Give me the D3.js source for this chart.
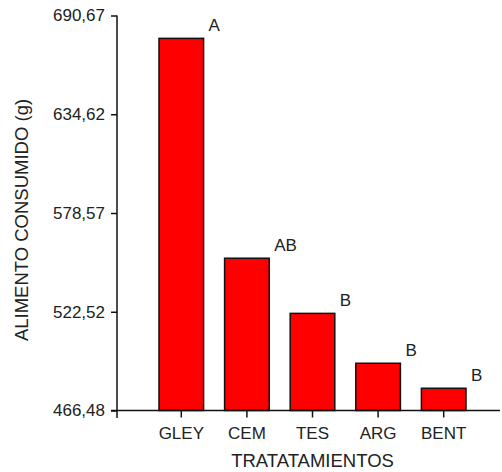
<!DOCTYPE html>
<html>
<head>
<meta charset="utf-8">
<script src="https://cdn.jsdelivr.net/npm/d3@7"></script>
<style>
  html, body { margin: 0; padding: 0; background: #fff; }
  svg { display: block; font-family: "Liberation Sans", Arial, sans-serif; }
</style>
</head>
<body>
<svg id="chart" width="502" height="472"></svg>
<script>
// Alimento consumido por tratamiento
const categories = ["GLEY", "CEM", "TES", "ARG", "BENT"];
const values = [677.7, 552.9, 521.6, 493.3, 479.1];
const groups = ["A", "AB", "B", "B", "B"];
const yTicks = [466.48, 522.52, 578.57, 634.62, 690.67];
const yTickLabels = ["466,48", "522,52", "578,57", "634,62", "690,67"];
const xTitle = "TRATATAMIENTOS";
const yTitle = "ALIMENTO CONSUMIDO (g)";

const svg = d3.select("#chart");
const axisX0 = 117, baseY = 410.5, topY = 15.5;

const x = d3.scaleBand()
  .domain(categories)
  .range([148.5, 476.5])
  .paddingInner(0.32)
  .paddingOuter(0.16);

const y = d3.scaleLinear()
  .domain([yTicks[0], yTicks[yTicks.length - 1]])
  .range([baseY, topY]);

// bars
svg.append("g").selectAll("rect")
  .data(categories)
  .join("rect")
  .attr("x", d => x(d))
  .attr("width", x.bandwidth())
  .attr("y", (d, i) => y(values[i]))
  .attr("height", (d, i) => y(yTicks[0]) - y(values[i]))
  .attr("fill", "#ff0000")
  .attr("stroke", "#111")
  .attr("stroke-width", 1.5);

// significance letters
svg.append("g").selectAll("text")
  .data(categories)
  .join("text")
  .attr("x", d => x(d) + x.bandwidth() + 5)
  .attr("y", (d, i) => y(values[i]) - 7)
  .attr("font-size", 17)
  .attr("fill", "#222")
  .text((d, i) => groups[i]);

// y axis
const yAxis = svg.append("g")
  .attr("transform", `translate(${axisX0},0)`)
  .call(d3.axisLeft(y)
    .tickValues(yTicks)
    .tickFormat((d, i) => yTickLabels[i])
    .tickSize(6)
    .tickPadding(6)
    .tickSizeOuter(0));
yAxis.select(".domain").remove();
yAxis.selectAll(".tick line").attr("stroke", "#111").attr("stroke-width", 1.5);
yAxis.selectAll(".tick text")
  .attr("font-size", 17)
  .attr("font-family", "Liberation Sans, Arial, sans-serif")
  .attr("fill", "#222");
svg.append("line")
  .attr("x1", axisX0).attr("x2", axisX0)
  .attr("y1", y(yTicks[yTicks.length - 1])).attr("y2", baseY + 7.5)
  .attr("stroke", "#111").attr("stroke-width", 1.5);

// x axis
const xAxis = svg.append("g")
  .attr("transform", `translate(0,${baseY})`)
  .call(d3.axisBottom(x)
    .tickSize(7)
    .tickPadding(9)
    .tickSizeOuter(0));
xAxis.select(".domain").remove();
xAxis.selectAll(".tick line").attr("stroke", "#111").attr("stroke-width", 1.5);
xAxis.selectAll(".tick text")
  .attr("font-size", 17)
  .attr("font-family", "Liberation Sans, Arial, sans-serif")
  .attr("fill", "#222");
svg.append("line")
  .attr("x1", axisX0 - 6).attr("x2", 500)
  .attr("y1", baseY).attr("y2", baseY)
  .attr("stroke", "#111").attr("stroke-width", 1.5);

// axis titles
svg.append("text")
  .attr("x", (x.range()[0] + x.range()[1]) / 2)
  .attr("y", 467)
  .attr("text-anchor", "middle")
  .attr("font-size", 18.5)
  .attr("fill", "#222")
  .text(xTitle);

svg.append("text")
  .attr("transform", "translate(28,220) rotate(-90)")
  .attr("text-anchor", "middle")
  .attr("font-size", 18.5)
  .attr("fill", "#222")
  .text(yTitle);
</script>
</body>
</html>
